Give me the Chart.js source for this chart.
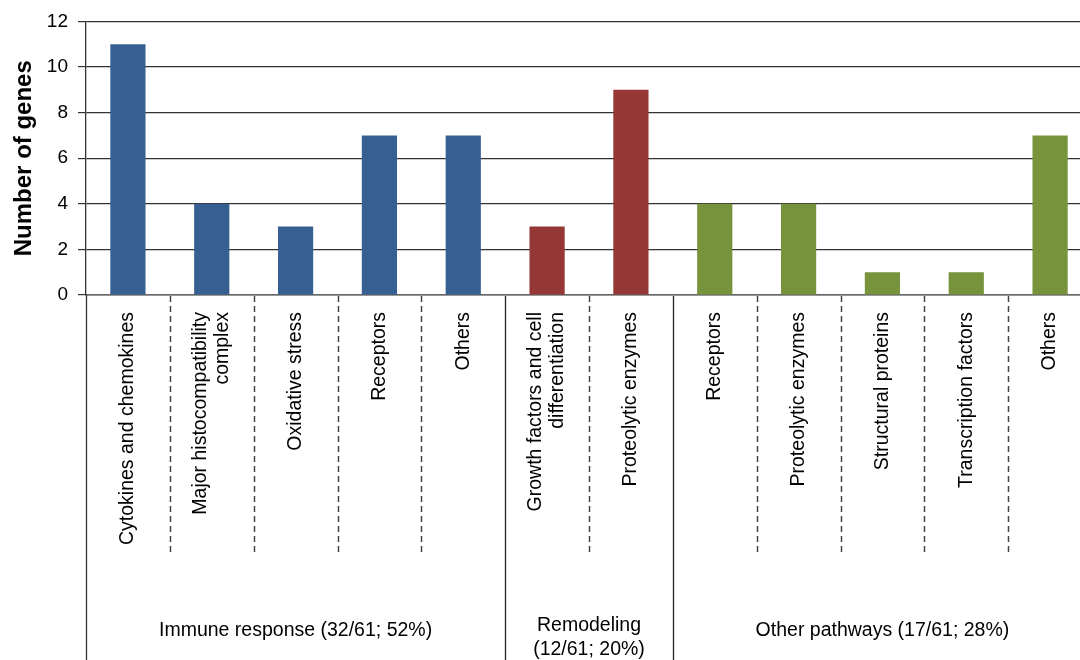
<!DOCTYPE html>
<html><head><meta charset="utf-8">
<script src="https://cdn.jsdelivr.net/npm/chart.js@4"></script>
<style>
html,body{margin:0;padding:0;background:#fff;overflow:hidden;width:1080px;height:660px;}
#wrap{position:absolute;left:0;top:0;width:1092px;height:660px;}
</style></head><body>
<div id="wrap"><canvas id="c"></canvas></div>
<script>
const categories = [
  ["Cytokines and chemokines"],
  ["Major histocompatibility","complex"],
  ["Oxidative stress"],
  ["Receptors"],
  ["Others"],
  ["Growth factors and cell","differentiation"],
  ["Proteolytic enzymes"],
  ["Receptors"],
  ["Proteolytic enzymes"],
  ["Structural proteins"],
  ["Transcription factors"],
  ["Others"]
];
const geneCounts = [11, 4, 3, 7, 7, 3, 9, 4, 4, 1, 1, 7];
const groupOfCategory = [0, 0, 0, 0, 0, 1, 1, 2, 2, 2, 2, 2];
const groupLabels = [
  ["Immune response (32/61; 52%)"],
  ["Remodeling","(12/61; 20%)"],
  ["Other pathways (17/61; 28%)"]
];
const groupColors = ["#376092", "#953735", "#77933C"];
const yAxisTitle = "Number of genes";

const FONT = '"Liberation Sans", Arial, sans-serif';

const categoryAxisPlugin = {
  id: 'catAxis',
  afterDraw(chart) {
    const ctx = chart.ctx, xs = chart.scales.x, area = chart.chartArea;
    const H = chart.height;
    const n = categories.length;
    const half = (xs.getPixelForValue(1) - xs.getPixelForValue(0)) / 2;
    ctx.save();
    // left axis extension
    ctx.strokeStyle = '#333';
    ctx.lineWidth = 1.3;
    ctx.beginPath();
    ctx.moveTo(Math.round(area.left) + 0.5, area.bottom);
    ctx.lineTo(Math.round(area.left) + 0.5, H);
    ctx.stroke();
    // separators
    for (let i = 1; i < n; i++) {
      const x = Math.round(xs.getPixelForValue(i) - half) + 0.5;
      const solid = groupOfCategory[i] !== groupOfCategory[i - 1];
      ctx.beginPath();
      ctx.strokeStyle = solid ? '#222' : '#444';
      ctx.lineWidth = solid ? 1.3 : 1.5;
      ctx.setLineDash(solid ? [] : [6, 4]);
      ctx.moveTo(x, area.bottom + 1);
      ctx.lineTo(x, solid ? H : 555);
      ctx.stroke();
    }
    ctx.setLineDash([]);
    // category labels
    ctx.fillStyle = '#000';
    ctx.font = '19.5px ' + FONT;
    ctx.textBaseline = 'middle';
    ctx.textAlign = 'right';
    const lh = 22;
    categories.forEach((lines, i) => {
      const cx = xs.getPixelForValue(i);
      lines.forEach((t, j) => {
        const x = cx + (j - (lines.length - 1) / 2) * lh;
        ctx.save();
        ctx.translate(x, 312);
        ctx.rotate(-Math.PI / 2);
        ctx.fillText(t, 0, 0);
        ctx.restore();
      });
    });
    // group labels
    ctx.textAlign = 'center';
    groupLabels.forEach((lines, g) => {
      const idx = groupOfCategory.map((v, i) => v === g ? i : -1).filter(i => i >= 0);
      const l = xs.getPixelForValue(idx[0]) - half;
      const r = xs.getPixelForValue(idx[idx.length - 1]) + half;
      const cx = (l + r) / 2;
      const glh = 24;
      const cy = lines.length > 1 ? 626 : 631;
      lines.forEach((t, j) => {
        ctx.fillText(t, cx, cy + j * glh);
      });
    });
    ctx.restore();
  }
};

new Chart(document.getElementById('c'), {
  type: 'bar',
  data: {
    labels: categories.map(c => c.join(' ')),
    datasets: [{
      data: geneCounts,
      backgroundColor: groupOfCategory.map(g => groupColors[g]),
      borderWidth: 0,
      barPercentage: 0.42,
      categoryPercentage: 1.0
    }]
  },
  options: {
    responsive: true,
    maintainAspectRatio: false,
    animation: false,
    layout: { padding: { top: 20, bottom: 365, left: 0, right: 0 } },
    plugins: { legend: { display: false }, tooltip: { enabled: false } },
    scales: {
      x: {
        ticks: { display: false },
        grid: { display: false, drawTicks: false },
        border: { display: true, color: '#666', width: 1.5 },
        afterFit: s => { s.height = 0; }
      },
      y: {
        min: 0, max: 12,
        ticks: { stepSize: 2, color: '#000', font: { size: 19, family: FONT }, padding: 10 },
        grid: { color: '#333', lineWidth: 1.2, tickLength: 8 },
        border: { display: true, color: '#333', width: 1.3 },
        title: { display: true, text: yAxisTitle, color: '#000',
                 font: { size: 24, weight: 'bold', family: FONT }, padding: { top: 10, bottom: 0 } },
        afterFit: s => { s.width = 86; }
      }
    }
  },
  plugins: [categoryAxisPlugin]
});
</script>
</body></html>
